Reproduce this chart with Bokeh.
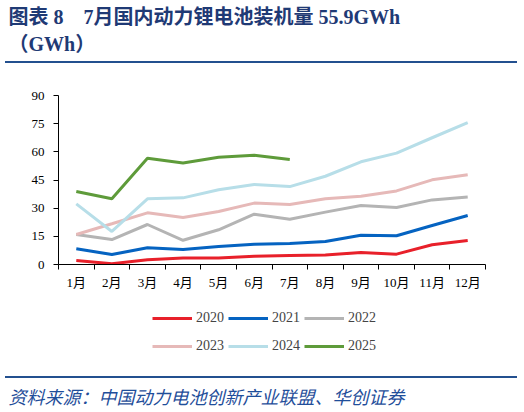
from bokeh.plotting import figure
from bokeh.layouts import column
from bokeh.models import FixedTicker, Legend, LegendItem, Range1d, Title, Div
from bokeh.embed import file_html
from bokeh.resources import INLINE

months = ["1月", "2月", "3月", "4月", "5月", "6月", "7月", "8月", "9月", "10月", "11月", "12月"]
y2020 = [2.1, 0.4, 2.5, 3.4, 3.4, 4.4, 4.8, 5.0, 6.4, 5.5, 10.5, 12.8]
y2021 = [8.4, 5.3, 8.9, 8.0, 9.6, 10.8, 11.2, 12.3, 15.6, 15.3, 20.8, 26.1]
y2022 = [16.0, 13.3, 21.3, 12.9, 18.5, 26.8, 24.1, 27.9, 31.4, 30.4, 34.4, 36.0]
y2023 = [16.0, 21.7, 27.5, 25.0, 28.2, 32.7, 32.0, 35.0, 36.4, 39.2, 45.1, 47.8]
y2024 = [32.3, 17.6, 35.0, 35.5, 39.8, 42.6, 41.5, 47.0, 54.7, 59.3, 67.5, 75.6]
y2025 = [38.9, 35.0, 56.6, 54.1, 57.1, 58.2, 55.9]
y_ticks = [0, 15, 30, 45, 60, 75, 90]

series = [("2020", y2020, "#E8202A"), ("2021", y2021, "#0563C1"), ("2022", y2022, "#B4B4B4"),
          ("2023", y2023, "#E6B9B8"), ("2024", y2024, "#B7DEE8"), ("2025", y2025, "#5E9B3A")]

SERIF = "Liberation Serif, Noto Sans CJK SC"
NAVY = "#1F3A75"
RULE = "#23508F"
W = 524
FL = 58  # frame left edge, shared by every figure in the column


def blank(h, top=0, bottom=0):
    f = figure(width=W, height=h, output_backend="svg", toolbar_location=None,
               x_axis_location=None, y_axis_location=None,
               min_border_left=0, min_border_right=0, min_border_top=top, min_border_bottom=bottom,
               x_range=Range1d(0, 1), y_range=Range1d(0, 1))
    f.outline_line_color = None
    f.grid.grid_line_color = None
    return f


def title(f, s, size, color, side, style="bold", standoff=3):
    f.add_layout(Title(text=s, align="left", offset=8 - FL, standoff=standoff,
                       text_font=SERIF, text_font_size=size, text_color=color,
                       text_font_style=style), side)


def rule():
    return Div(text="", width=512, height=2, margin=(0, 0, 0, 5),
               styles={"background-color": RULE})


# header 0..61
head = blank(61, top=56)
title(head, "（GWh）", "20px", NAVY, "above")
title(head, "图表 8\u20037月国内动力锂电池装机量 55.9GWh", "20px", NAVY, "above")

# chart 63..300, frame x 58..485, y 95..264
p = figure(width=W, height=237, output_backend="svg", toolbar_location=None,
           min_border_left=FL, min_border_right=39, min_border_top=32, min_border_bottom=36,
           x_range=Range1d(0.5, 12.5), y_range=Range1d(0, 90))
p.outline_line_color = None
p.grid.grid_line_color = None

xs = list(range(1, len(months) + 1))
for name, vals, color in series:
    p.line(xs[:len(vals)], vals, line_color=color, line_width=3)

p.xaxis.ticker = FixedTicker(ticks=xs, minor_ticks=[x + 0.5 for x in range(0, 13)])
p.xaxis.major_label_overrides = {x: m for x, m in zip(xs, months)}
p.xaxis.major_tick_out = 0
p.xaxis.major_tick_in = 0
p.xaxis.minor_tick_out = 5
p.xaxis.minor_tick_in = 0
p.xaxis.major_label_standoff = 5
p.yaxis.ticker = FixedTicker(ticks=y_ticks)
p.yaxis.major_tick_out = 5
p.yaxis.major_tick_in = 0
p.yaxis.minor_tick_line_color = None
p.yaxis.major_label_standoff = 9
for ax in (p.xaxis, p.yaxis):
    ax.axis_line_color = "#000000"
    ax.major_tick_line_color = "#000000"
    ax.major_label_text_font = SERIF
    ax.major_label_text_font_size = "13px"
    ax.major_label_text_color = "#000000"
p.xaxis.minor_tick_line_color = "#000000"

# legend 300..376; its series lines lie outside the visible x range
leg = blank(76)
leg.x_range = Range1d(-20, -10)
items = []
for name, vals, color in series:
    r = leg.line(xs[:len(vals)], vals, line_color=color, line_width=3)
    items.append(LegendItem(label=name, renderers=[r]))
legend = Legend(items=items, location=(152 - FL, 18), orientation="horizontal", nrows=2,
                glyph_width=40, glyph_height=24, label_height=24, label_width=28,
                label_standoff=4, spacing=4, padding=0, margin=0,
                border_line_color=None, background_fill_alpha=0,
                label_text_font=SERIF, label_text_font_size="14px")
leg.add_layout(legend, "center")

# footer 378..412
foot = blank(34, bottom=32)
title(foot, "资料来源：中国动力电池创新产业联盟、华创证券", "18px", "#1F4E9A", "below",
      style="italic", standoff=10)

page = column(head, rule(), p, leg, rule(), foot, spacing=0)
open("out.html", "w").write(file_html(page, INLINE))
